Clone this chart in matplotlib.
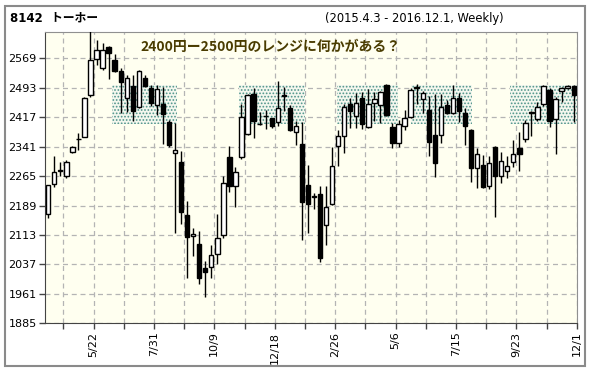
import matplotlib
matplotlib.use("Agg")
import matplotlib.pyplot as plt
import matplotlib.patches as patches
import numpy as np

# weekly OHLC, 2015.4.3 - 2016.12.1
opens = [2166, 2244, 2280, 2266, 2326, 2361, 2367, 2473, 2566, 2543,
         2599, 2565, 2535, 2467, 2498, 2443, 2519, 2493, 2448, 2451,
         2404, 2325, 2300, 2165, 2110, 2089, 2027, 2031, 2063, 2113,
         2313, 2239, 2313, 2373, 2477, 2400, 2421, 2414, 2404, 2474,
         2440, 2378, 2347, 2242, 2214, 2218, 2139, 2193, 2343, 2369,
         2451, 2420, 2467, 2391, 2453, 2448, 2500, 2391, 2350, 2393,
         2417, 2492, 2464, 2436, 2372, 2370, 2448, 2429, 2467, 2427,
         2384, 2287, 2294, 2240, 2340, 2264, 2279, 2302, 2338, 2360,
         2431, 2411, 2450, 2487, 2411, 2485, 2493, 2497]
highs = [2243, 2317, 2302, 2307, 2342, 2375, 2470, 2660, 2616, 2608,
         2601, 2580, 2543, 2526, 2526, 2539, 2526, 2500, 2500, 2496,
         2410, 2401, 2329, 2201, 2132, 2123, 2046, 2087, 2167, 2264,
         2343, 2288, 2451, 2476, 2493, 2430, 2436, 2416, 2511, 2496,
         2449, 2406, 2405, 2294, 2220, 2240, 2240, 2341, 2385, 2451,
         2466, 2480, 2481, 2489, 2481, 2485, 2502, 2401, 2410, 2436,
         2491, 2502, 2485, 2472, 2477, 2477, 2462, 2500, 2479, 2440,
         2386, 2337, 2320, 2318, 2342, 2328, 2317, 2358, 2380, 2410,
         2433, 2457, 2500, 2492, 2470, 2496, 2500, 2501]
lows = [2158, 2238, 2266, 2261, 2324, 2331, 2365, 2470, 2552, 2540,
        2516, 2533, 2427, 2431, 2407, 2440, 2495, 2446, 2423, 2348,
        2339, 2119, 2141, 2002, 2058, 1987, 1953, 2002, 2037, 2104,
        2225, 2186, 2310, 2370, 2362, 2397, 2386, 2388, 2393, 2434,
        2381, 2345, 2100, 2117, 2180, 2042, 2087, 2190, 2290, 2324,
        2388, 2388, 2386, 2388, 2408, 2403, 2421, 2337, 2341, 2384,
        2414, 2450, 2427, 2316, 2262, 2350, 2424, 2426, 2405, 2345,
        2250, 2233, 2233, 2231, 2159, 2247, 2259, 2288, 2279, 2354,
        2368, 2408, 2447, 2392, 2323, 2457, 2490, 2405]
closes = [2241, 2275, 2279, 2301, 2340, 2360, 2466, 2564, 2590, 2590,
          2582, 2537, 2507, 2519, 2433, 2535, 2498, 2453, 2489, 2425,
          2346, 2332, 2171, 2109, 2115, 2002, 2018, 2060, 2104, 2246,
          2239, 2276, 2418, 2473, 2406, 2399, 2419, 2395, 2440, 2472,
          2384, 2395, 2199, 2192, 2212, 2053, 2184, 2290, 2369, 2444,
          2433, 2453, 2399, 2450, 2463, 2481, 2423, 2350, 2399, 2414,
          2487, 2496, 2479, 2354, 2299, 2444, 2429, 2467, 2434, 2395,
          2287, 2321, 2238, 2298, 2264, 2305, 2291, 2321, 2322, 2401,
          2429, 2444, 2498, 2407, 2465, 2491, 2498, 2474]

date_labels = ["5/22", "7/31", "10/9", "12/18", "2/26", "5/6", "7/15", "9/23", "12/1"]
y_ticks = [1885, 1961, 2037, 2113, 2189, 2265, 2341, 2417, 2493, 2569]

# 2400-2500 range zones (week index spans)
zone_low, zone_high = 2400, 2500
zones = [(10.6, 21.3), (31.6, 42.5), (47.8, 57.9), (60.0, 70.1), (76.5, 87.6)]

plt.rcParams["hatch.linewidth"] = 0.8

fig = plt.figure(figsize=(5.9, 3.71), dpi=100)
ax = fig.add_axes([0.0763, 0.1286, 0.9022, 0.7843])
ax.set_facecolor("#fffff0")

o = np.array(opens)
h = np.array(highs)
l = np.array(lows)
c = np.array(closes)
x = np.arange(len(o))

for x0, x1 in zones:
    ax.add_patch(patches.Rectangle((x0, zone_low), x1 - x0, zone_high - zone_low,
                                   facecolor="#f4f7ee", edgecolor="#4f948a", hatch=".....",
                                   linewidth=0, zorder=1))

ax.vlines(x, l, h, color="black", linewidth=1, zorder=3)
up = c >= o
bottom = np.minimum(o, c)
height = np.maximum(np.abs(c - o), 1)
ax.bar(x, height, bottom=bottom, width=0.72,
       color=np.where(up, "white", "black"), edgecolor="black", linewidth=1, zorder=4)

ax.set_xlim(-0.53, 87.6)
ax.set_ylim(1885, 2636)

tick_pos = np.arange(2.5, 88, 5)
ax.set_xticks(tick_pos)
labels = []
for i, p in enumerate(tick_pos):
    labels.append(date_labels[(i - 1) // 2] if i % 2 == 1 else "")
ax.set_xticklabels(labels, rotation=90, fontsize=8)
ax.set_yticks(y_ticks)
ax.set_yticklabels([str(v) for v in y_ticks], fontsize=8)
ax.tick_params(length=4, color="#444444", width=1, pad=2)

ax.grid(True, color="#b4b4b4", linestyle=(0, (4, 3)), linewidth=0.9, zorder=0)
ax.set_axisbelow(True)
for s in ["top", "right"]:
    ax.spines[s].set_color("#909090")
for s in ["left", "bottom"]:
    ax.spines[s].set_color("#444444")

ax.text(0.179, 0.95, "2400円ー2500円のレンジに何かがある？", transform=ax.transAxes,
        fontsize=10, fontweight="bold", color="#4a3c00", va="center", ha="left",
        family=["Noto Sans CJK JP", "DejaVu Sans"], zorder=6)

fig.text(0.017, 0.951, "8142  トーホー", fontsize=8.5, fontweight="bold",
         family=["DejaVu Sans", "Noto Sans CJK JP"], va="center", ha="left")
fig.text(0.551, 0.949, "(2015.4.3 - 2016.12.1, Weekly)", fontsize=8.3,
         va="center", ha="left")

fig.patches.append(patches.Rectangle((5 / 590, 5 / 371), 580 / 590, 360 / 371,
                                     transform=fig.transFigure, fill=False,
                                     edgecolor="#8a8a8a", linewidth=1.5))

fig.savefig("out.png", dpi=100)
